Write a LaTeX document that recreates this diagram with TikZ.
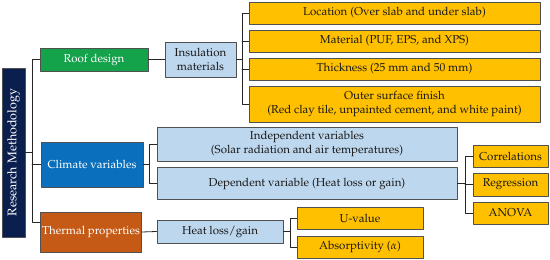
\documentclass[tikz,border=0pt]{standalone}
\usepackage[T1]{fontenc}
\usepackage{mathpazo}
\usepackage{xcolor}
\usetikzlibrary{calc}
\definecolor{navy}{HTML}{0B1F4F}
\definecolor{roof}{HTML}{14A24B}
\definecolor{clim}{HTML}{0A70BD}
\definecolor{therm}{HTML}{C45A16}
\definecolor{pale}{HTML}{BDD7EE}
\definecolor{amber}{HTML}{FFC000}
\definecolor{rim}{HTML}{505050}
\definecolor{wire}{HTML}{262626}

\begin{document}
\begin{tikzpicture}[x=1pt,y=-1pt,line cap=round,line join=round,
    box/.style={draw=rim,line width=0.8pt,inner sep=1pt,align=center,
      font=\fontsize{11.5}{13.5}\selectfont},
    head/.style={box,text=white},
    sub/.style={box,fill=pale,text=black!90},
    leaf/.style={box,fill=amber,text=black!90},
    wire/.style={draw=wire,line width=0.8pt}]
    \useasboundingbox (0,0) rectangle (550,260);
    % root and main branches
    \node[head,fill=navy,rotate=90,minimum width=169pt,minimum height=23pt,
      font=\fontsize{12.5}{14}\selectfont] (rm) at (13.5,152.5) {Research Methodology};
    \node[head,fill=roof,minimum width=108pt,minimum height=23pt] (roof) at (94,59.5) {Roof design};
    \node[head,fill=clim,minimum width=102pt,minimum height=45pt] (clim) at (92,164.5) {Climate variables};
    \node[head,fill=therm,minimum width=101pt,minimum height=40pt] (therm) at (91,232) {Thermal properties};
    % roof design
    \node[sub,minimum width=71pt,minimum height=35pt] (ins) at (200.5,59.5) {Insulation\\materials};
    \node[leaf,minimum width=291pt,minimum height=22pt] (loc) at (394.5,13) {Location (Over slab and under slab)};
    \node[leaf,minimum width=291pt,minimum height=22pt] (mat) at (394.5,41) {Material (PUF, EPS, and XPS)};
    \node[leaf,minimum width=291pt,minimum height=22pt] (thick) at (394.5,69) {Thickness (25 mm and 50 mm)};
    \node[leaf,minimum width=291pt,minimum height=36pt] (finish) at (394.5,104) {Outer surface finish\\(Red clay tile, unpainted cement, and white paint)};
    % climate variables
    \node[sub,minimum width=300pt,minimum height=34pt] (indep) at (307,144) {Independent variables\\(Solar radiation and air temperatures)};
    \node[sub,minimum width=300pt,minimum height=32pt] (dep) at (307,183.5) {Dependent variable (Heat loss or gain)};
    \node[leaf,minimum width=75pt,minimum height=22pt] (corr) at (510.5,156) {Correlations};
    \node[leaf,minimum width=75pt,minimum height=23pt] (regr) at (510.5,184.5) {Regression};
    \node[leaf,minimum width=75pt,minimum height=22pt] (anova) at (510.5,213) {ANOVA};
    % thermal properties
    \node[sub,minimum width=126pt,minimum height=23pt] (heat) at (220,231.5) {Heat loss/gain};
    \node[leaf,minimum width=126pt,minimum height=22pt] (uval) at (360,218) {U-value};
    \node[leaf,minimum width=126pt,minimum height=22pt] (absorb) at (360,247) {Absorptivity ($\alpha$)};
    % forks
    \coordinate (spine) at (32,222);
    \coordinate (insfork) at (242,0);
    \coordinate (cfork) at (149,0);
    \coordinate (dfork) at (465,0);
    \coordinate (hfork) at (290,0);
    % connectors
    \draw[wire] (roof.west) -| (spine) -- ([yshift=10pt]therm.west);
    \draw[wire] (rm.south) -- (rm.south -| spine);
    \draw[wire] (clim.west) -- (clim.west -| spine);
    \draw[wire] (roof.east) -- (ins.west);
    \draw[wire] (ins.east) -- (ins.east -| insfork);
    \draw[wire] (loc.west) -| (finish.west -| insfork) -- (finish.west);
    \draw[wire] (mat.west) -- (mat.west -| insfork);
    \draw[wire] (thick.west) -- (thick.west -| insfork);
    \draw[wire] (clim.east) -- (clim.east -| cfork);
    \draw[wire] (indep.west) -| (dep.west -| cfork) -- (dep.west);
    \draw[wire] (dep.east) -- (dep.east -| dfork);
    \draw[wire] (corr.west) -| (anova.west -| dfork) -- (anova.west);
    \draw[wire] (regr.west) -- (regr.west -| dfork);
    \draw[wire] (therm.east) -- (heat.west);
    \draw[wire] (heat.east) -- (heat.east -| hfork);
    \draw[wire] (uval.west) -| (absorb.west -| hfork) -- (absorb.west);
  \end{tikzpicture}
\end{document}
